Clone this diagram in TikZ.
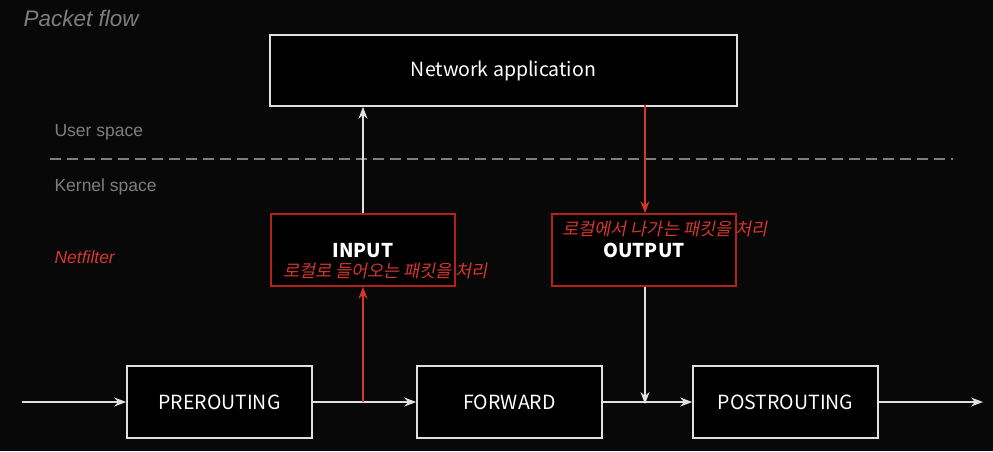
\documentclass[tikz,border=0pt]{standalone}
\usepackage{fontspec}
\setmainfont{Noto Sans CJK KR}
\newfontfamily\labelfont{Liberation Sans}
\newfontfamily\krslant[FakeSlant=0.2]{Noto Sans CJK KR}
\usetikzlibrary{arrows.meta,positioning}

\definecolor{bgcol}{HTML}{080808}
\definecolor{linecol}{HTML}{E0E0E0}
\definecolor{boxred}{HTML}{B3221A}
\definecolor{textred}{HTML}{D4372C}
\definecolor{graytext}{HTML}{7E7E7E}

\begin{document}
\begin{tikzpicture}
        [x=1pt, y=-1pt,
         chain/.style={draw=linecol, fill=black, line width=1.6pt, minimum width=185pt, minimum height=72pt,
                       text=white, font=\fontsize{19.5}{21}\selectfont},
         hook/.style={draw=boxred, fill=black, line width=1.6pt, minimum width=184pt, minimum height=72pt},
         hooklbl/.style={text=white, font=\bfseries\fontsize{19}{21}\selectfont},
         note/.style={text=textred, font=\krslant\fontsize{17.5}{19}\selectfont, inner sep=0pt},
         flow/.style={-{Stealth[length=12pt,width=9pt]}, draw=linecol, line width=1.6pt},
         redflow/.style={-{Stealth[length=12pt,width=9pt]}, draw=textred, line width=1.6pt},
         area/.style={text=graytext, font=\labelfont\fontsize{17.5}{20}\selectfont, anchor=west}]

        \fill[bgcol] (0,0) rectangle (993,451);
        \useasboundingbox (0,0) rectangle (993,451);

        \node[text=graytext, font=\labelfont\itshape\fontsize{22.5}{26}\selectfont, anchor=west] (title) at (20,18) {Packet flow};
        \node[area] (user) at (51,132) {User space};
        \node[area] (kernel) at (51,187) {Kernel space};
        \node[area, text=textred, font=\labelfont\itshape\fontsize{17.5}{20}\selectfont] (nf) at (51,257) {Netfilter};
        \coordinate (sepL) at (50,159);
        \coordinate (sepR) at (953,159);
        \draw[graytext, dash pattern=on 11pt off 6pt, line width=1.6pt] (sepL) -- (sepR);

        \node[chain, minimum width=467pt, minimum height=71pt] (app) at (503.5,70.5) {Network application};

        \node[hook] (input) at (363,250) {};
        \node[hooklbl] (inputlbl) at (363,250.5) {INPUT};
        \node[note] (inputnote) at (385.5,271) {로컬로 들어오는 패킷을 처리};

        \node[hook] (output) at (644,250) {};
        \node[hooklbl] (outputlbl) at (644,250.5) {OUTPUT};
        \node[note] (outputnote) at (665,229) {로컬에서 나가는 패킷을 처리};

        \node[chain] (pre) at (219.5,402) {PREROUTING};
        \node[chain] (fwd) at (509.5,402) {FORWARD};
        \node[chain] (post) at (785.5,402) {POSTROUTING};

        \coordinate (in) at (22,402);
        \coordinate (out) at (983,402);
        \coordinate (tap) at (363,402);
        \coordinate (join) at (645,402);

        \draw[flow] (in) -- (pre);
        \draw[flow] (pre) -- (fwd);
        \draw[flow] (fwd) -- (post);
        \draw[flow] (post) -- (out);
        \draw[redflow] (tap) -- (input.south);
        \draw[flow] (input.north) -- (input.north |- app.south);
        \draw[redflow] (output.north -| join) ++(0,-108) -- (output.north -| join);
        \draw[flow] (output.south -| join) -- ([yshift=-2pt]join);
\end{tikzpicture}
\end{document}
